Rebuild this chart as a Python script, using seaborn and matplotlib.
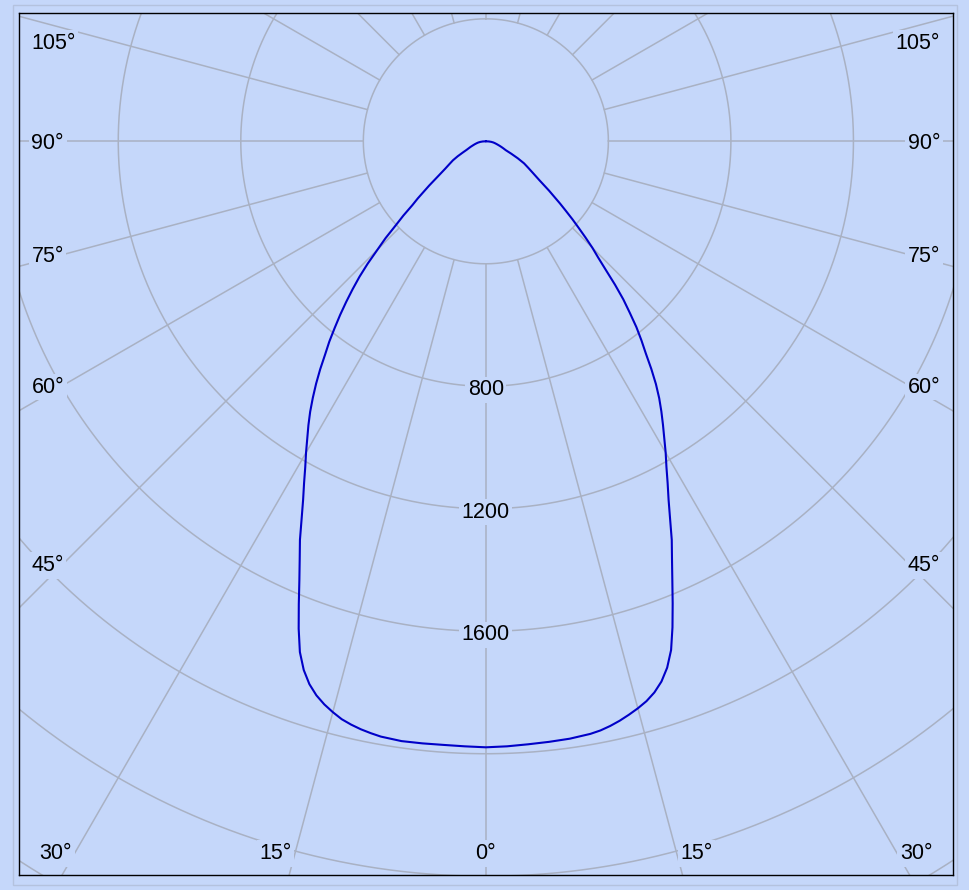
import numpy as np
import pandas as pd
import matplotlib
matplotlib.use("Agg")
import matplotlib.pyplot as plt
import seaborn as sns
from matplotlib.patches import Rectangle

# luminous intensity (cd) against gamma angle
gamma = [0, 2, 4, 6, 8, 10, 11, 12, 13, 14, 15, 16, 17, 18, 19, 20, 21, 22,
         23, 24, 25, 26, 27, 28, 29, 30, 32, 33, 34, 35, 36, 37, 38, 39, 40,
         41, 42, 43, 44, 45, 46, 47, 48, 49, 50, 52, 54, 56, 58, 60, 62, 64,
         66, 68, 70, 72, 75, 78, 81, 84, 87, 90]
cd_right = [1979, 1977, 1974, 1972, 1970, 1965, 1960, 1952, 1942, 1930, 1917,
            1902, 1882, 1855, 1818, 1768, 1700, 1628, 1558, 1494, 1436, 1372,
            1314, 1264, 1216, 1174, 1091, 1052, 1012, 968, 919, 868, 825, 781,
            731, 684, 630, 574, 528, 492, 452, 414, 380, 346, 316, 262, 216,
            186, 163, 144, 118, 92, 71, 62, 54, 47, 38, 31, 25, 18, 10, 0]
cd_left = [1979, 1977, 1976, 1977, 1978, 1974, 1969, 1963, 1955, 1945, 1930,
           1913, 1892, 1864, 1826, 1775, 1705, 1630, 1558, 1494, 1436, 1372,
           1314, 1264, 1216, 1174, 1093, 1053, 1010, 966, 920, 872, 830, 784,
           740, 695, 650, 605, 555, 500, 455, 402, 362, 318, 290, 235, 190,
           160, 140, 124, 104, 84, 69, 60, 53, 46, 38, 31, 25, 18, 10, 0]

ring_values = [400, 800, 1200, 1600, 2000, 2400, 2800, 3200, 3600, 4000]
ring_labels = [800, 1200, 1600]
angle_labels = [0, 15, 30, 45, 60, 75, 90, 105]

bg = "#c5d7fa"
grid_col = "#a9b1c3"
line_col = "#0000c8"

sns.set_theme(style="white", rc={"axes.facecolor": bg, "figure.facecolor": bg})
plt.rcParams["font.family"] = ["Liberation Sans", "DejaVu Sans"]

# view window in cd units (centre of the diagram at 0,0)
xmin, xmax = -1524, 1524
ymin, ymax = -2396, 419
px = (xmax - xmin) / 933.7  # cd per pixel

fig = plt.figure(figsize=(9.69, 8.90), dpi=100)
ax = fig.add_axes([19 / 969, 15 / 890, 933.7 / 969, 862 / 890])

# outer faint frame
fig.patches.append(Rectangle((12.5 / 969, 5 / 890), 944.5 / 969, 880 / 890,
                             transform=fig.transFigure, fill=False,
                             ec="#b4c2de", lw=1, zorder=0))

# rings
t = np.linspace(0, 2 * np.pi, 721)
for v in ring_values:
    ax.plot(v * np.sin(t), v * np.cos(t), color=grid_col, lw=1.1, zorder=1)

# radial lines every 15 deg, starting at the inner ring
for a in range(0, 360, 15):
    r = np.radians(a)
    ax.plot([400 * np.sin(r), 6000 * np.sin(r)],
            [-400 * np.cos(r), -6000 * np.cos(r)],
            color=grid_col, lw=1.1, zorder=1)

# the intensity curve, left half then right half
g = np.radians(gamma)
xl = -np.array(cd_left) * np.sin(g)
yl = -np.array(cd_left) * np.cos(g)
xr = np.array(cd_right) * np.sin(g)
yr = -np.array(cd_right) * np.cos(g)
df = pd.DataFrame({"x": np.concatenate([xl[::-1], xr]),
                   "y": np.concatenate([yl[::-1], yr])})
sns.lineplot(data=df, x="x", y="y", sort=False, estimator=None,
             color=line_col, linewidth=1.5, ax=ax, zorder=3)

box = dict(boxstyle="square,pad=0.12", fc=bg, ec="none")
fs = 15.5

for v in ring_labels:
    ax.text(0, -v - 3.5 * px, str(v), ha="center", va="center", fontsize=fs,
            color="black", bbox=box, zorder=2)

for a in angle_labels:
    r = np.radians(a)
    for side in (-1, 1):
        if a == 0 and side == 1:
            continue
        s, c = np.sin(r), np.cos(r)
        hits_bottom = c > 0 and (s == 0 or -ymin / c < xmax / s)
        if hits_bottom:
            y = ymin + 24 * px
            x = side * (-y) * np.tan(r)
            if a == 0:
                ha = "center"
            else:
                x += side * 4 * px
                ha = "right" if side < 0 else "left"
        else:
            xin = xmax - 45 * px
            y = -xin * c / s
            y = min(y, ymax - 28 * px)
            x = side * (xmax - 12.5 * px)
            ha = "left" if side < 0 else "right"
        ax.text(x, y - 2.5 * px, f"{a}°", ha=ha, va="center", fontsize=fs,
                color="black", bbox=box, zorder=2)

ax.set_xlim(xmin, xmax)
ax.set_ylim(ymin, ymax)
ax.set_xticks([])
ax.set_yticks([])
ax.set(xlabel="", ylabel="")
for sp in ax.spines.values():
    sp.set_color("black")
    sp.set_linewidth(1.0)
    sp.set_zorder(5)

fig.savefig("out.png", dpi=100, facecolor=bg)
